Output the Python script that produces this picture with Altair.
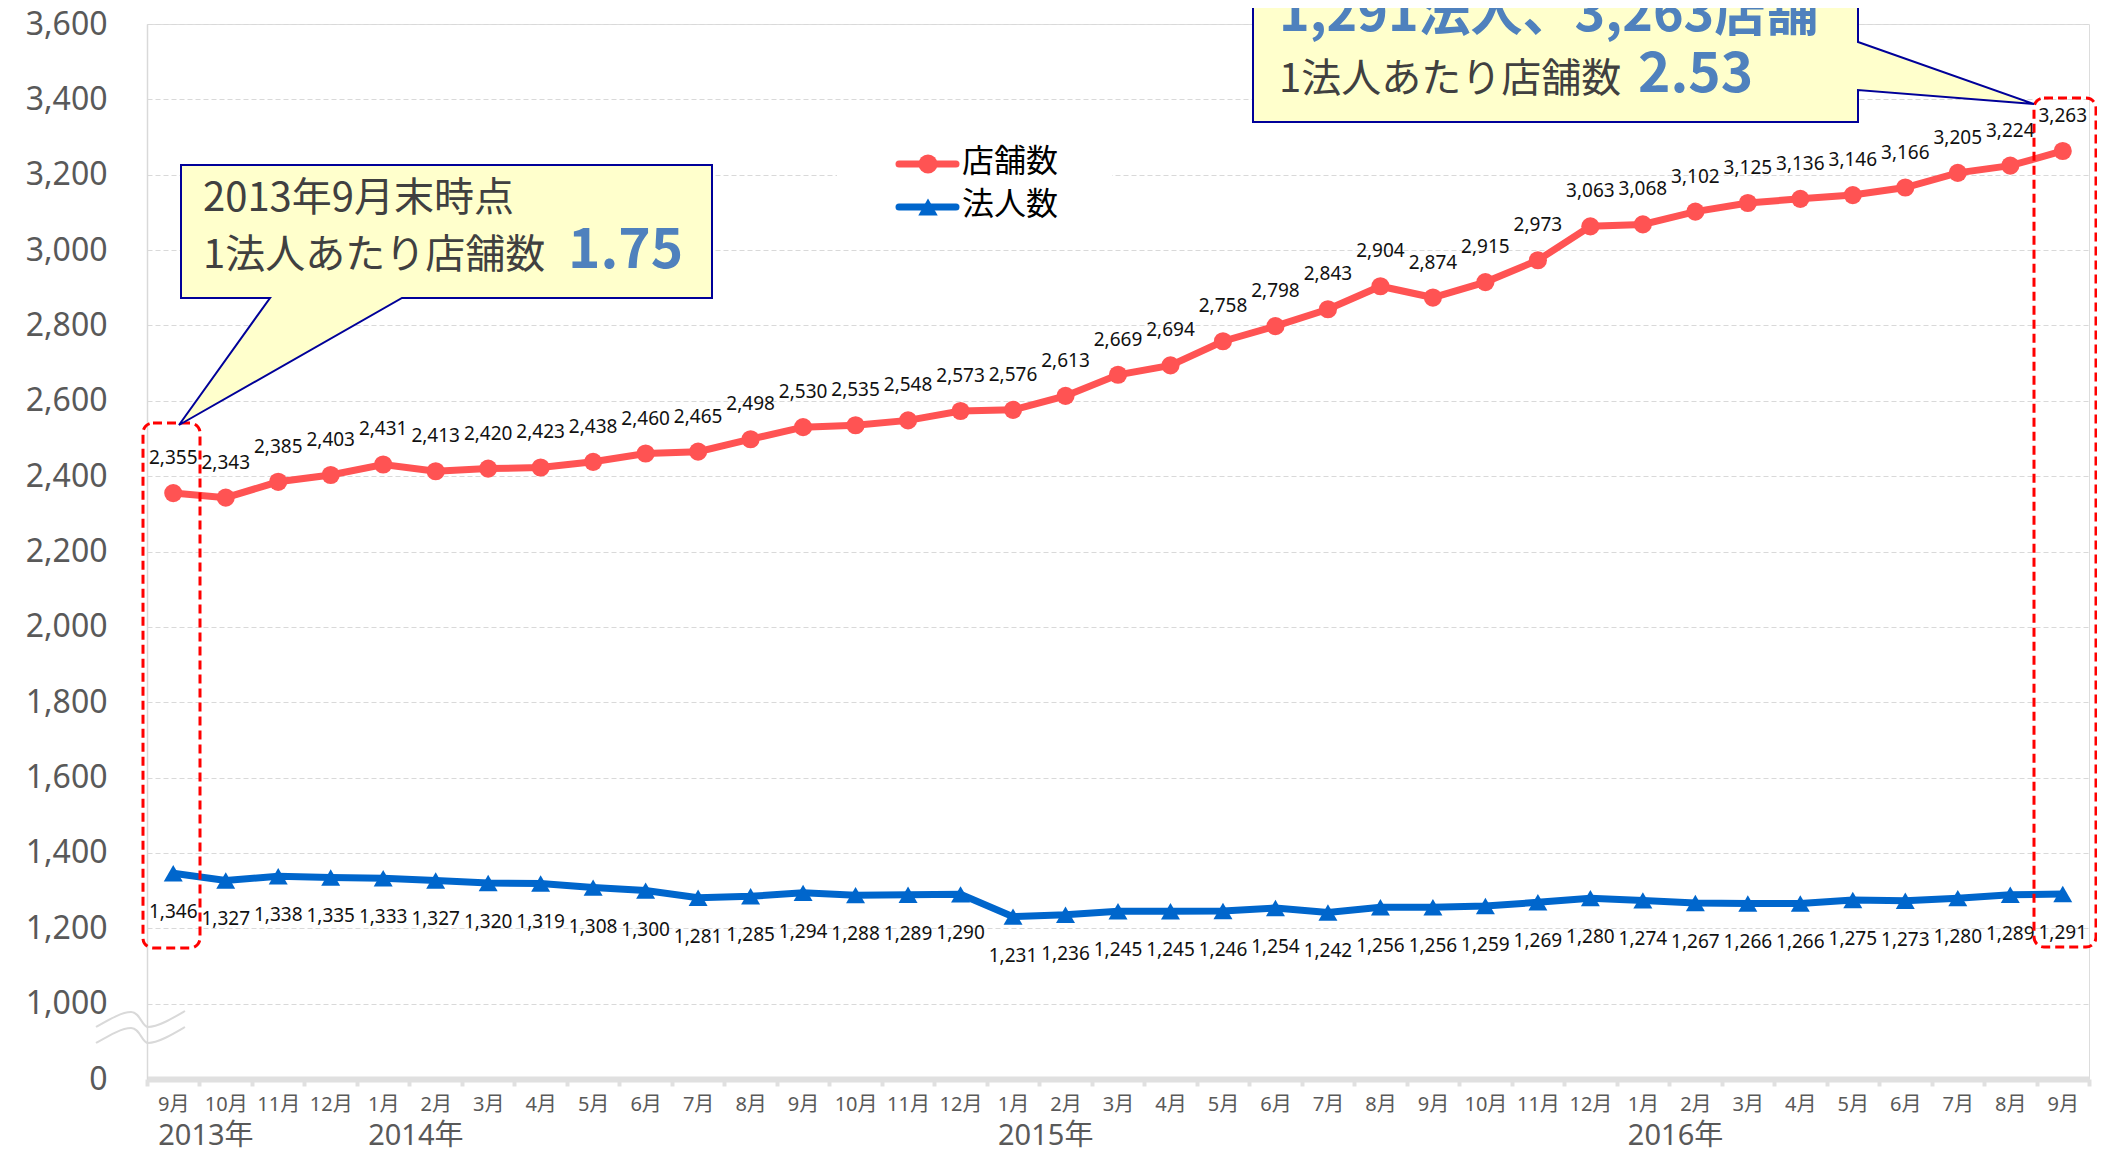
import altair as alt
import pandas as pd

# ---------------- data ----------------
keys = [
    "2013年9月", "2013年10月", "2013年11月", "2013年12月",
    "2014年1月", "2014年2月", "2014年3月", "2014年4月", "2014年5月", "2014年6月",
    "2014年7月", "2014年8月", "2014年9月", "2014年10月", "2014年11月", "2014年12月",
    "2015年1月", "2015年2月", "2015年3月", "2015年4月", "2015年5月", "2015年6月",
    "2015年7月", "2015年8月", "2015年9月", "2015年10月", "2015年11月", "2015年12月",
    "2016年1月", "2016年2月", "2016年3月", "2016年4月", "2016年5月", "2016年6月",
    "2016年7月", "2016年8月", "2016年9月",
]
stores = [2355, 2343, 2385, 2403, 2431, 2413, 2420, 2423, 2438, 2460, 2465, 2498,
          2530, 2535, 2548, 2573, 2576, 2613, 2669, 2694, 2758, 2798, 2843, 2904,
          2874, 2915, 2973, 3063, 3068, 3102, 3125, 3136, 3146, 3166, 3205, 3224, 3263]
corps = [1346, 1327, 1338, 1335, 1333, 1327, 1320, 1319, 1308, 1300, 1281, 1285,
         1294, 1288, 1289, 1290, 1231, 1236, 1245, 1245, 1246, 1254, 1242, 1256,
         1256, 1259, 1269, 1280, 1274, 1267, 1266, 1266, 1275, 1273, 1280, 1289, 1291]
year_keys = ["2013年9月", "2014年1月", "2015年1月", "2016年1月"]
year_labels = ["2013年", "2014年", "2015年", "2016年"]
y_ticks = [800, 1000, 1200, 1400, 1600, 1800, 2000, 2200, 2400, 2600, 2800, 3000,
           3200, 3400, 3600]
series_names = ["店舗数", "法人数"]

# ---------------- style ----------------
RED = "#FF5353"
BLUE = "#0066CC"
TXT_BLUE = "#4F81BD"
GRAY_TXT = "#595959"
DARK_TXT = "#404040"
JP = "Noto Sans, Noto Sans CJK JP"
NARROW = "Liberation Sans Narrow, Arial Narrow, Noto Sans"
W, H = 1942, 1055

df = pd.DataFrame({"key": keys, "stores": stores, "corps": corps})
ydf = pd.DataFrame({"key": year_keys, "label": year_labels})
one = pd.DataFrame({"a": [0]})

xscale = alt.Scale(type="band", paddingInner=0, paddingOuter=0)
xaxis = alt.Axis(
    title=None, labelAngle=0, labelExpr="split(datum.value, '年')[1]",
    labelFont=JP, labelFontSize=20, labelColor=GRAY_TXT, labelPadding=8,
    domainColor="#E0E0E0", domainWidth=6, tickColor="#E0E0E0", tickWidth=4,
    tickSize=7, tickBand="extent", grid=False,
)
yscale = alt.Scale(domain=[800, 3600], nice=False, zero=False)
yaxis = alt.Axis(
    title=None, values=y_ticks,
    labelExpr="datum.value == 800 ? '0' : format(datum.value, ',')",
    labelFont=JP, labelFontSize=32, labelColor=GRAY_TXT, labelPadding=40,
    ticks=False, domainColor="#D9D9D9", domainWidth=1.5,
    grid=True, gridColor="#D9D9D9", gridDash=[5, 3], gridWidth=1,
)

X = alt.X("key:N", sort=keys, scale=xscale, axis=xaxis)


def Y(field):
    return alt.Y(f"{field}:Q", scale=yscale, axis=yaxis)


base = alt.Chart(df)

store_line = base.mark_line(color=RED, strokeWidth=7).encode(x=X, y=Y("stores"))
store_pts = base.mark_point(shape="circle", filled=True, size=330, color=RED,
                            opacity=1).encode(x=X, y=Y("stores"))
store_lbl = base.mark_text(dy=-35, fontSize=19, font=NARROW, color="#111111").encode(
    x=X, y=Y("stores"), text=alt.Text("stores:Q", format=","))

corp_line = base.mark_line(color=BLUE, strokeWidth=7).encode(x=X, y=Y("corps"))
corp_pts = base.mark_point(shape="triangle-up", filled=True, size=360, color=BLUE,
                           opacity=1).encode(x=X, y=Y("corps"))
corp_lbl = base.mark_text(dy=39, fontSize=19, font=NARROW, color="#111111").encode(
    x=X, y=Y("corps"), text=alt.Text("corps:Q", format=","))

year_txt = alt.Chart(ydf).mark_text(
    align="left", baseline="alphabetic", dx=-15, fontSize=29, font=JP, color=GRAY_TXT
).encode(x=X, y=alt.value(H + 66), text="label:N")

# ---------------- annotations (pixel layout) ----------------
ann = alt.Chart(one)

break_path = ("M -52 0 C -38 -8 -26 -15 -17 -15 C -8 -15 -6 0 0 0 C 10 0 25 -9 37 -16 "
              "M -52 16 C -38 8 -26 1 -17 1 C -8 1 -6 16 0 16 C 10 16 25 7 37 0")
break_mark = ann.mark_point(shape=break_path, size=4, filled=False, stroke="#D9D9D9",
                            strokeWidth=2, opacity=1).encode(
    x=alt.value(1), y=alt.value(1003))

box_left = ann.mark_rect(fill="transparent", stroke="#FF0000", strokeWidth=3,
                         strokeDash=[9, 5], cornerRadius=10).encode(
    x=alt.value(-4), x2=alt.value(53), y=alt.value(399), y2=alt.value(924))
box_right = ann.mark_rect(fill="transparent", stroke="#FF0000", strokeWidth=3,
                          strokeDash=[9, 5], cornerRadius=10).encode(
    x=alt.value(1887), x2=alt.value(1949), y=alt.value(74), y2=alt.value(923))

callout_left_path = "M 34 141 L 565 141 L 565 274 L 255 274 L 32 401 L 123 274 L 34 274 Z"
callout_right_path = ("M 1106 -70 L 1711 -70 L 1711 18 L 1887 80 L 1711 66 "
                      "L 1711 98 L 1106 98 Z")
callout_left = ann.mark_point(shape=callout_left_path, size=4, filled=True,
                              fill="#FFFFCC", stroke="#000099", strokeWidth=2,
                              opacity=1).encode(x=alt.value(0), y=alt.value(0))
callout_right = ann.mark_point(shape=callout_right_path, size=4, filled=True,
                               fill="#FFFFCC", stroke="#000099", strokeWidth=2,
                               opacity=1).encode(x=alt.value(0), y=alt.value(0))

ratio_first = f"{stores[0] / corps[0]:.2f}"
ratio_last = f"{stores[-1] / corps[-1]:.2f}"
first_year, first_month = keys[0].split("年")


def label(text, x, y, size, color, weight="normal"):
    return ann.mark_text(text=text, align="left", baseline="alphabetic", fontSize=size,
                         font="Noto Sans CJK JP", fontWeight=weight, color=color).encode(
        x=alt.value(x), y=alt.value(y))


texts = [
    label(f"{first_year}年{first_month}末時点", 56, 187, 40, DARK_TXT),
    label("1法人あたり店舗数", 56, 244, 40, DARK_TXT),
    label(ratio_first, 421, 244, 55, TXT_BLUE, "bold"),
    label(f"{corps[-1]:,}法人、{stores[-1]:,}店舗", 1132, 7, 52, TXT_BLUE, "bold"),
    label("1法人あたり店舗数", 1132, 68, 40, DARK_TXT),
    label(ratio_last, 1491, 68, 55, TXT_BLUE, "bold"),
]

# legend
legend_bg = ann.mark_rect(fill="white").encode(
    x=alt.value(690), x2=alt.value(965), y=alt.value(106), y2=alt.value(211))
leg_r1 = ann.mark_rule(color=RED, strokeWidth=7, strokeCap="round").encode(
    x=alt.value(752), x2=alt.value(809), y=alt.value(140))
leg_p1 = ann.mark_point(shape="circle", filled=True, size=360, color=RED, opacity=1).encode(
    x=alt.value(781), y=alt.value(140))
leg_r2 = ann.mark_rule(color=BLUE, strokeWidth=7, strokeCap="round").encode(
    x=alt.value(752), x2=alt.value(809), y=alt.value(183))
leg_p2 = ann.mark_point(shape="triangle-up", filled=True, size=380, color=BLUE,
                        opacity=1).encode(x=alt.value(781), y=alt.value(183))
leg_t1 = label(series_names[0], 815, 148, 32, "#000000")
leg_t2 = label(series_names[1], 815, 191, 32, "#000000")

chart = alt.layer(
    store_line, corp_line, store_pts, corp_pts, store_lbl, corp_lbl, year_txt,
    break_mark, box_left, box_right, callout_left, callout_right, *texts,
    legend_bg, leg_r1, leg_p1, leg_r2, leg_p2, leg_t1, leg_t2,
).properties(
    width=W, height=H,
    padding={"left": 139, "top": 16, "right": 8, "bottom": 73},
    autosize=alt.AutoSizeParams(type="none"),
).configure_view(stroke=None).configure(background="white")

chart.save("out.html", embed_options={"renderer": "svg", "actions": False})
